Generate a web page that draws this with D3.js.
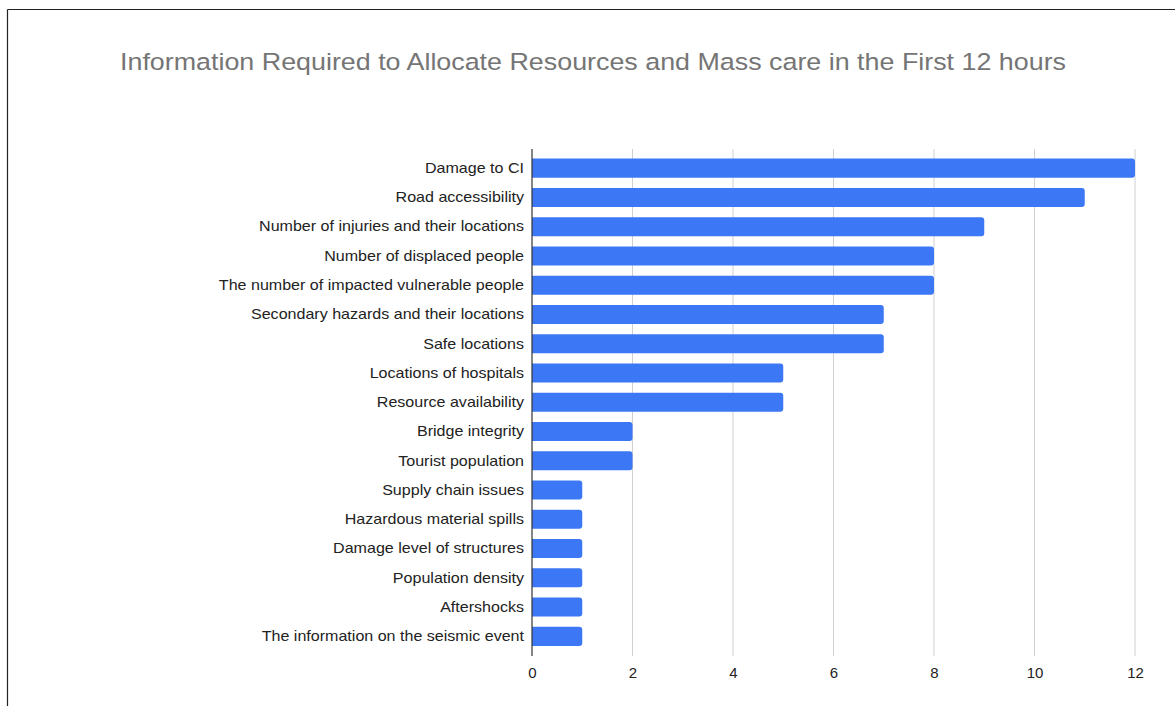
<!DOCTYPE html>
<html>
<head>
<meta charset="utf-8">
<script src="https://cdn.jsdelivr.net/npm/d3@7"></script>
<style>
  html, body { margin: 0; padding: 0; background: #fff; }
  svg { display: block; font-family: "Liberation Sans", Arial, sans-serif; }
</style>
</head>
<body>
<svg id="chart" width="1175" height="706"></svg>
<script>
const categories = [
  "Damage to CI",
  "Road accessibility",
  "Number of injuries and their locations",
  "Number of displaced people",
  "The number of impacted vulnerable people",
  "Secondary hazards and their locations",
  "Safe locations",
  "Locations of hospitals",
  "Resource availability",
  "Bridge integrity",
  "Tourist population",
  "Supply chain issues",
  "Hazardous material spills",
  "Damage level of structures",
  "Population density",
  "Aftershocks",
  "The information on the seismic event"
];
const counts = [12, 11, 9, 8, 8, 7, 7, 5, 5, 2, 2, 1, 1, 1, 1, 1, 1];
const xTicks = [0, 2, 4, 6, 8, 10, 12];
const title = "Information Required to Allocate Resources and Mass care in the First 12 hours";

const svg = d3.select("#chart");

// frame lines along the top and left edges
svg.append("line").attr("x1", 7.5).attr("x2", 1175).attr("y1", 9.5).attr("y2", 9.5)
  .attr("stroke", "#222").attr("stroke-width", 1.2);
svg.append("line").attr("x1", 7.5).attr("x2", 7.5).attr("y1", 9.5).attr("y2", 706)
  .attr("stroke", "#222").attr("stroke-width", 1.2);

svg.append("text")
  .attr("x", 593).attr("y", 70)
  .attr("text-anchor", "middle")
  .attr("fill", "#757575")
  .attr("font-size", 24.5)
  .attr("textLength", 946)
  .attr("lengthAdjust", "spacingAndGlyphs")
  .text(title);

const x = d3.scaleLinear().domain([0, 12]).range([532, 1135]);
const y = d3.scaleBand().domain(categories).range([153.5, 651]).paddingInner(0.35).paddingOuter(0.175);

const gridTop = 149, gridBottom = 656;

// vertical gridlines
svg.append("g").selectAll("line").data(xTicks.slice(1)).join("line")
  .attr("x1", d => x(d)).attr("x2", d => x(d))
  .attr("y1", gridTop).attr("y2", gridBottom)
  .attr("stroke", "#d0d0d0").attr("stroke-width", 1);

// bars with rounded right ends
const r = 3;
svg.append("g").selectAll("path").data(categories).join("path")
  .attr("fill", "#3c78f6")
  .attr("d", (c, i) => {
    const x0 = x(0), x1 = x(counts[i]), y0 = y(c), h = y.bandwidth();
    return `M${x0},${y0} H${x1 - r} Q${x1},${y0} ${x1},${y0 + r} V${y0 + h - r} Q${x1},${y0 + h} ${x1 - r},${y0 + h} H${x0} Z`;
  });

// baseline
svg.append("line").attr("x1", x(0)).attr("x2", x(0)).attr("y1", gridTop).attr("y2", gridBottom)
  .attr("stroke", "#333").attr("stroke-width", 1.2);

// category labels, stretched slightly for a wider face
const yAxis = d3.axisLeft(y).tickSize(0).tickPadding(8);
const gy = svg.append("g").attr("transform", `translate(${x(0)},0)`).call(yAxis);
gy.select(".domain").remove();
gy.selectAll("text")
  .attr("font-size", 15)
  .attr("fill", "#222")
  .attr("font-family", "Liberation Sans, Arial, sans-serif")
  .each(function () {
    const w = this.getComputedTextLength();
    d3.select(this).attr("textLength", w * 1.07).attr("lengthAdjust", "spacingAndGlyphs");
  });

// value axis labels
const xAxis = d3.axisBottom(x).tickValues(xTicks).tickSize(0).tickPadding(11).tickFormat(d3.format("d"));
const gx = svg.append("g").attr("transform", `translate(0,${gridBottom})`).call(xAxis);
gx.select(".domain").remove();
gx.selectAll("text").attr("font-size", 15).attr("fill", "#222").attr("font-family", "Liberation Sans, Arial, sans-serif");
</script>
</body>
</html>
